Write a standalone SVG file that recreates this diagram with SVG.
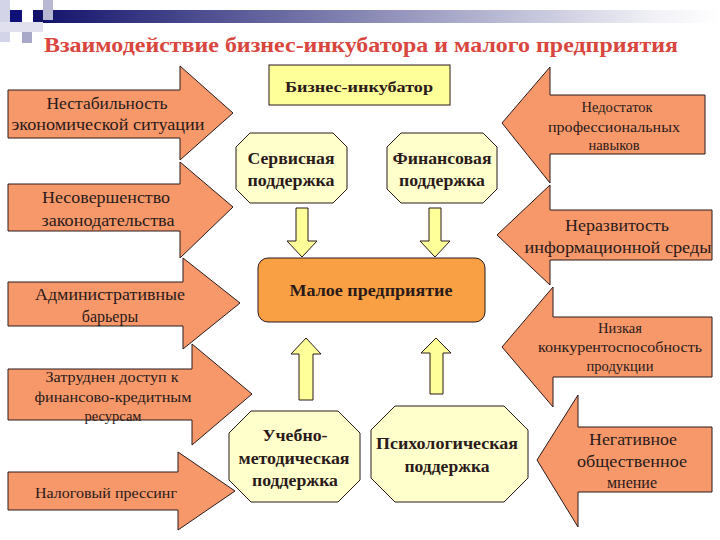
<svg xmlns="http://www.w3.org/2000/svg" width="720" height="540" viewBox="0 0 720 540" font-family="Liberation Serif, Tinos, DejaVu Serif, Times New Roman, serif">
<defs>
<linearGradient id="bar" x1="0" y1="0" x2="1" y2="0">
<stop offset="0" stop-color="#10106a"/>
<stop offset="0.45" stop-color="#8080b0"/>
<stop offset="0.9" stop-color="#f0f0f6"/>
<stop offset="1" stop-color="#ffffff"/>
</linearGradient>
<style>
.arr{fill:#F7986B;stroke:#2a1a1a;stroke-width:1}
.oct{fill:#FFFFCC;stroke:#2a1a1a;stroke-width:1}
.ya{fill:#FFFF99;stroke:#2a1a1a;stroke-width:1}
.t{fill:#2a1a1a;text-anchor:middle}
.n{font-size:16px}
.s{font-size:14.5px}
.b{font-size:16px;font-weight:bold}
.title{font-weight:bold;font-size:22px;fill:#D9463E;text-anchor:middle}
</style>
</defs>
<rect width="720" height="540" fill="#ffffff"/>
<g id="decor">
<rect x="33" y="10" width="687" height="13" fill="url(#bar)"/>
<rect x="0" y="0" width="10" height="42" fill="#d4d4e8"/>
<rect x="0" y="22" width="43" height="10" fill="#e0e0ee"/>
<rect x="43" y="0" width="10" height="20" fill="#b8b8d2"/>
<rect x="10" y="10" width="12" height="12" fill="#10107a"/>
<rect x="22" y="32" width="10" height="11" fill="#a8a8c8"/>
</g>
<text class="title" x="361" y="52" textLength="634" lengthAdjust="spacingAndGlyphs" font-family="Liberation Serif">Взаимодействие бизнес-инкубатора и малого предприятия</text>

<g id="connectors">
<path class="ya" d="M296,208 H308 V241 H317 L302,257 L287,241 H296 Z"/>
<path class="ya" d="M429,208 H441 V241 H450 L435,257 L420,241 H429 Z"/>
<path class="ya" d="M299,400 H313 V354 H321 L306,338 L291,354 H299 Z"/>
<path class="ya" d="M430,394 H443 V353 H451 L436,338 L421,353 H430 Z"/>
</g>

<g id="left1">
<path class="arr" d="M8,90 H180 V66 L233,113 L180,160 V138 H8 Z"/>
<text class="t n" x="107" y="109" textLength="121" lengthAdjust="spacingAndGlyphs">Нестабильность</text>
<text class="t n" x="108" y="130" textLength="193" lengthAdjust="spacingAndGlyphs">экономической ситуации</text>
</g>
<g id="left2">
<path class="arr" d="M8,184 H180 V162 L233,207 L180,258 V231 H8 Z"/>
<text class="t n" x="106" y="203" textLength="128" lengthAdjust="spacingAndGlyphs">Несовершенство</text>
<text class="t n" x="108" y="226" textLength="133" lengthAdjust="spacingAndGlyphs">законодательства</text>
</g>
<g id="left3">
<path class="arr" d="M8,282 H183 V258 L240,303 L183,349 V326 H8 Z"/>
<text class="t n" x="110" y="300" textLength="150" lengthAdjust="spacingAndGlyphs">Административные</text>
<text class="t n" x="110" y="322">барьеры</text>
</g>
<g id="left4">
<path class="arr" d="M8,369 H192 V344 L252,394 L192,445 V420 H8 Z"/>
<text class="t s" x="112" y="382" textLength="133" lengthAdjust="spacingAndGlyphs">Затруднен доступ к</text>
<text class="t s" x="113" y="402" textLength="157" lengthAdjust="spacingAndGlyphs">финансово-кредитным</text>
<text class="t s" x="113" y="421">ресурсам</text>
</g>
<g id="left5">
<path class="arr" d="M8,472 H178 V452 L235,491 L178,530 V510 H8 Z"/>
<text class="t s" x="106" y="498" textLength="142" lengthAdjust="spacingAndGlyphs">Налоговый прессинг</text>
</g>

<g id="right1">
<path class="arr" d="M705,95 H550 V67 L502,123 L550,183 V154 H705 Z"/>
<text class="t s" x="617" y="112">Недостаток</text>
<text class="t s" x="614" y="132" textLength="132" lengthAdjust="spacingAndGlyphs">профессиональных</text>
<text class="t s" x="614" y="150">навыков</text>
</g>
<g id="right2">
<path class="arr" d="M712,210 H550 V185 L497,235 L550,285 V260 H712 Z"/>
<text class="t n" x="617" y="231" textLength="104" lengthAdjust="spacingAndGlyphs">Неразвитость</text>
<text class="t n" x="618" y="253" textLength="187" lengthAdjust="spacingAndGlyphs">информационной среды</text>
</g>
<g id="right3">
<path class="arr" d="M712,317 H553 V287 L502,347 L553,407 V377 H712 Z"/>
<text class="t s" x="620" y="333">Низкая</text>
<text class="t s" x="620" y="352" textLength="164" lengthAdjust="spacingAndGlyphs">конкурентоспособность</text>
<text class="t s" x="620" y="371">продукции</text>
</g>
<g id="right4">
<path class="arr" d="M712,427 H578 V395 L537,460 L578,527 V492 H712 Z"/>
<text class="t n" x="633" y="445" textLength="88" lengthAdjust="spacingAndGlyphs">Негативное</text>
<text class="t n" x="632" y="467" textLength="110" lengthAdjust="spacingAndGlyphs">общественное</text>
<text class="t n" x="632" y="488">мнение</text>
</g>

<g id="incubator">
<rect x="269" y="65" width="181" height="40" fill="#FFFF99" stroke="#2a1a1a" stroke-width="1"/>
<text class="t" style="font-size:15px;font-weight:bold" x="359" y="92" textLength="148" lengthAdjust="spacingAndGlyphs">Бизнес-инкубатор</text>
</g>
<g id="service">
<polygon class="oct" points="250,133 333,133 347,147 347,189 333,203 250,203 236,189 236,147"/>
<text class="t b" x="291" y="164" textLength="87" lengthAdjust="spacingAndGlyphs">Сервисная</text>
<text class="t b" x="291" y="186" textLength="87" lengthAdjust="spacingAndGlyphs">поддержка</text>
</g>
<g id="finance">
<polygon class="oct" points="401,133 483,133 497,147 497,189 483,203 401,203 387,189 387,147"/>
<text class="t b" x="442" y="164" textLength="99" lengthAdjust="spacingAndGlyphs">Финансовая</text>
<text class="t b" x="442" y="186" textLength="86" lengthAdjust="spacingAndGlyphs">поддержка</text>
</g>
<g id="small">
<rect x="258" y="258" width="227" height="64" rx="10" fill="#F8A043" stroke="#2a1a1a" stroke-width="1"/>
<text class="t b" x="371" y="296" textLength="163" lengthAdjust="spacingAndGlyphs">Малое предприятие</text>
</g>
<g id="methodical">
<polygon class="oct" points="251,411 338,411 360,433 360,480 338,502 251,502 229,480 229,433"/>
<text class="t b" x="295" y="441" textLength="65" lengthAdjust="spacingAndGlyphs">Учебно-</text>
<text class="t b" x="294" y="464" textLength="111" lengthAdjust="spacingAndGlyphs">методическая</text>
<text class="t b" x="295" y="486" textLength="86" lengthAdjust="spacingAndGlyphs">поддержка</text>
</g>
<g id="psych">
<polygon class="oct" points="395,406 504,406 528,430 528,478 504,502 395,502 371,478 371,430"/>
<text class="t b" x="447" y="449" textLength="142" lengthAdjust="spacingAndGlyphs">Психологическая</text>
<text class="t b" x="447" y="472" textLength="85" lengthAdjust="spacingAndGlyphs">поддержка</text>
</g>
</svg>
